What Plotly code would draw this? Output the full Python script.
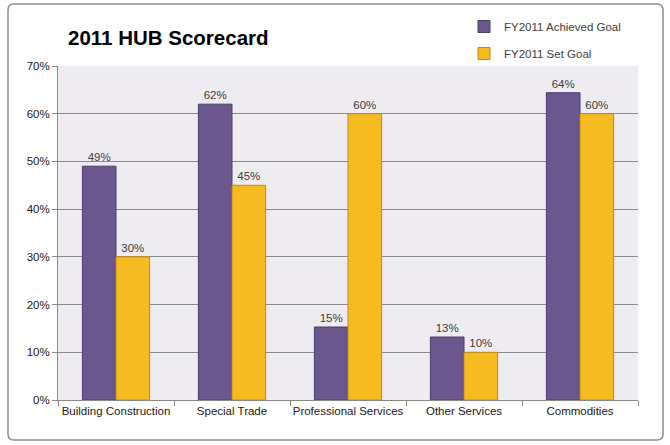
import plotly.graph_objects as go

categories = ["Building Construction", "Special Trade", "Professional Services", "Other Services", "Commodities"]
achieved = [49, 62, 15.3, 13.2, 64.4]
set_goal = [30, 45, 60, 10, 60]
y_ticks = [0, 10, 20, 30, 40, 50, 60, 70]
y_tick_labels = [f"{v}%" for v in y_ticks]

FONT = "Liberation Sans, Arial, sans-serif"

fig = go.Figure()
fig.add_trace(go.Bar(
    name="FY2011 Achieved Goal", x=categories, y=achieved,
    marker=dict(color="#6B568E", line=dict(color="#4E3D70", width=1)),
    texttemplate="%{y:.0f}%", textposition="outside", cliponaxis=False,
    textfont=dict(size=11.5, color="#404040", family=FONT),
    legendgroup="a",
))
fig.add_trace(go.Bar(
    name="FY2011 Set Goal", x=categories, y=set_goal,
    marker=dict(color="#F6BB20", line=dict(color="#C08A1A", width=1)),
    texttemplate="%{y:.0f}%", textposition="outside", cliponaxis=False,
    textfont=dict(size=11.5, color="#404040", family=FONT),
    legendgroup="b",
))

L, R, T, B = 58, 32, 66, 45
W, H = 670, 445
pw, ph = W - L - R, H - T - B

def px(x):
    return (x - L) / pw

def py(y):
    return (H - B - y) / ph

# rounded border path in paper units
x0, x1, y0, y1, r = 8, 663, 4, 440, 6
def P(x, y):
    return f"{px(x):.5f},{py(y):.5f}"
border_path = (
    f"M{P(x0 + r, y0)} L{P(x1 - r, y0)} Q{P(x1, y0)} {P(x1, y0 + r)} "
    f"L{P(x1, y1 - r)} Q{P(x1, y1)} {P(x1 - r, y1)} "
    f"L{P(x0 + r, y1)} Q{P(x0, y1)} {P(x0, y1 - r)} "
    f"L{P(x0, y0 + r)} Q{P(x0, y0)} {P(x0 + r, y0)} Z"
)

fig.update_layout(
    width=W, height=H,
    margin=dict(l=L, r=R, t=T, b=B, autoexpand=False),
    paper_bgcolor="white",
    plot_bgcolor="#EEECF1",
    barmode="group",
    bargap=0.42,
    bargroupgap=0.0,
    font=dict(family=FONT, size=11, color="#404040"),
    title=dict(text="<b>2011 HUB Scorecard</b>", x=68 / W, xanchor="left",
               y=1 - 38 / H, yanchor="middle", xref="container", yref="container",
               font=dict(size=20.5, color="#000000", family=FONT)),
    legend=dict(x=px(464), y=py(12), xanchor="left", yanchor="top",
                font=dict(size=11.5, color="#404040", family=FONT),
                bgcolor="rgba(0,0,0,0)", itemwidth=30,
                traceorder="grouped", tracegroupgap=8),
    xaxis=dict(showline=True, linecolor="#888888", linewidth=1, automargin=False,
               ticks="outside", tickson="boundaries", ticklen=5, tickcolor="#888888",
               tickangle=0, showgrid=False, tickfont=dict(size=11.5, color="#202020")),
    yaxis=dict(range=[0, 70], tickvals=y_ticks, ticktext=y_tick_labels, automargin=False,
               showline=True, linecolor="#888888", linewidth=1,
               ticks="outside", ticklen=5, tickcolor="#888888",
               showgrid=True, gridcolor="#8A8A8A", gridwidth=1,
               zeroline=False, tickfont=dict(size=11.5, color="#202020")),
    shapes=[dict(type="path", xref="paper", yref="paper", path=border_path,
                 line=dict(color="#8C8C8C", width=1.5), layer="below")],
)

fig.write_html("out.html", config={"displayModeBar": False},
               post_script="document.body.style.margin='0';")
